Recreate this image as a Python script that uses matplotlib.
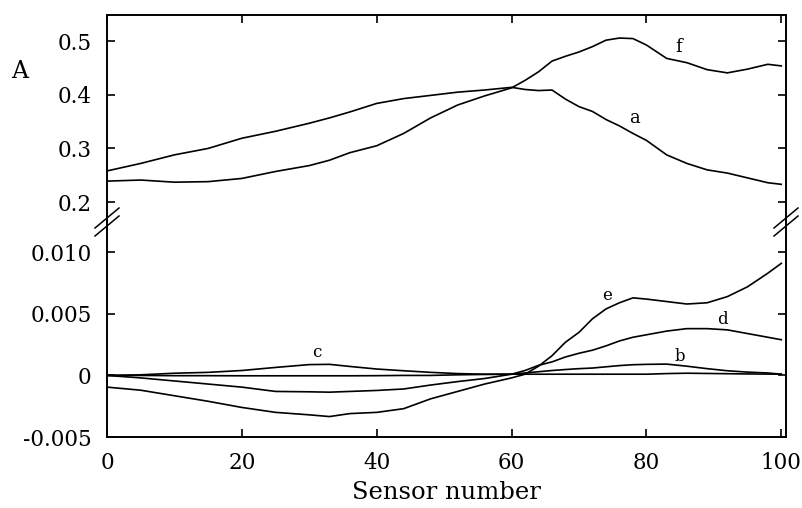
import matplotlib
matplotlib.use("Agg")
import matplotlib.pyplot as plt
from matplotlib.lines import Line2D

plt.rcParams["font.family"] = ["DejaVu Serif"]
plt.rcParams["axes.unicode_minus"] = False

# ---- data ----
sensor = [0, 5, 10, 15, 20, 25, 30, 33, 36, 40, 44, 48, 52, 56, 60, 62, 64, 66,
          68, 70, 72, 74, 76, 78, 80, 83, 86, 89, 92, 95, 98, 100]

a_vals = [0.258, 0.272, 0.288, 0.300, 0.319, 0.332, 0.347, 0.357, 0.368, 0.384,
          0.393, 0.399, 0.405, 0.409, 0.414, 0.410, 0.408, 0.409, 0.392, 0.378,
          0.369, 0.354, 0.342, 0.328, 0.315, 0.288, 0.272, 0.260, 0.254, 0.245,
          0.236, 0.233]
f_vals = [0.239, 0.241, 0.237, 0.238, 0.244, 0.257, 0.268, 0.278, 0.292, 0.305,
          0.328, 0.357, 0.381, 0.398, 0.413, 0.427, 0.443, 0.463, 0.472, 0.480,
          0.490, 0.502, 0.506, 0.505, 0.493, 0.468, 0.460, 0.447, 0.441, 0.448,
          0.457, 0.454]

b_vals = [0.0, 0.0, -0.00002, -0.00002, -0.00003, -0.00003, -0.00003, -0.00003,
          -0.00003, -0.00002, 0.0, 0.0, 0.00005, 0.00008, 0.0001, 0.0002, 0.0003,
          0.0004, 0.00048, 0.00055, 0.0006, 0.0007, 0.0008, 0.00087, 0.0009,
          0.00092, 0.00075, 0.00055, 0.00038, 0.00027, 0.0002, 0.0001]
c_vals = [0.0, 0.00005, 0.00018, 0.00025, 0.0004, 0.00065, 0.00088, 0.0009,
          0.00073, 0.00052, 0.00038, 0.00025, 0.00015, 0.0001, 0.0001, 0.0001,
          0.0001, 0.0001, 0.0001, 0.0001, 0.0001, 0.0001, 0.0001, 0.0001, 0.0001,
          0.00015, 0.00018, 0.00016, 0.00014, 0.00012, 0.00011, 0.0001]
d_vals = [0.0, -0.0002, -0.00045, -0.0007, -0.00095, -0.0013, -0.00133, -0.00136,
          -0.0013, -0.00122, -0.0011, -0.00078, -0.0005, -0.00025, 0.0001, 0.0004,
          0.00082, 0.0011, 0.0015, 0.0018, 0.00205, 0.0024, 0.0028, 0.0031, 0.0033,
          0.0036, 0.0038, 0.0038, 0.0037, 0.0034, 0.0031, 0.0029]
e_vals = [-0.00095, -0.0012, -0.00165, -0.0021, -0.0026, -0.003, -0.0032, -0.00334,
          -0.0031, -0.003, -0.0027, -0.0019, -0.0013, -0.0007, -0.0002, 0.0001,
          0.00075, 0.0016, 0.0027, 0.0035, 0.0046, 0.0054, 0.0059, 0.0063, 0.0062,
          0.006, 0.0058, 0.0059, 0.0064, 0.0072, 0.0083, 0.0091]

top_ticks = [0.2, 0.3, 0.4, 0.5]
top_labels = ["0.2", "0.3", "0.4", "0.5"]
bot_ticks = [-0.005, 0.0, 0.005, 0.010]
bot_labels = ["-0.005", "0", "0.005", "0.010"]
x_ticks = [0, 20, 40, 60, 80, 100]
x_labels = ["0", "20", "40", "60", "80", "100"]

W, H = 803, 508
fig = plt.figure(figsize=(W / 100, H / 100), dpi=100)
L, R, T, B, BRK = 107, 786, 15, 437, 222
ax_top = fig.add_axes([L / W, 1 - BRK / H, (R - L) / W, (BRK - T) / H])
ax_bot = fig.add_axes([L / W, 1 - B / H, (R - L) / W, (B - BRK) / H])

lw = 1.2
for ys in (a_vals, f_vals):
    ax_top.plot(sensor, ys, color="black", lw=lw)
for ys in (b_vals, c_vals, d_vals, e_vals):
    ax_bot.plot(sensor, ys, color="black", lw=lw)

xlim = (0, 100.7)
for ax in (ax_top, ax_bot):
    ax.set_xlim(*xlim)
    for s in ax.spines.values():
        s.set_linewidth(1.4)
    ax.tick_params(direction="in", length=6, width=1.2, labelsize=15.5,
                   left=True, right=True)

ax_top.set_ylim(0.1627, 0.549)
ax_top.set_yticks(top_ticks)
ax_top.set_yticklabels(top_labels)
ax_top.set_xticks(x_ticks)
ax_top.tick_params(axis="x", top=True, bottom=False, labelbottom=False)
ax_top.tick_params(axis="y", pad=11)
ax_top.spines["bottom"].set_visible(False)

ax_bot.set_ylim(-0.005, 0.01246)
ax_bot.set_yticks(bot_ticks)
ax_bot.set_yticklabels(bot_labels)
ax_bot.set_xticks(x_ticks)
ax_bot.set_xticklabels(x_labels)
ax_bot.tick_params(axis="x", top=False, bottom=True, pad=11)
ax_bot.tick_params(axis="y", pad=11)
ax_bot.spines["top"].set_visible(False)
ax_bot.set_xlabel("Sensor number", fontsize=17.5, labelpad=5)

fig.text(20 / W, 1 - 72 / H, "A", fontsize=17, ha="center", va="center")

# curve labels
ax_top.text(84.7, 0.49, "f", fontsize=13, ha="center", va="center")
ax_top.text(78.2, 0.357, "a", fontsize=13, ha="center", va="center")
ax_bot.text(31.1, 0.00187, "c", fontsize=12, ha="center", va="center")
ax_bot.text(74.2, 0.0065, "e", fontsize=12, ha="center", va="center")
ax_bot.text(91.2, 0.00453, "d", fontsize=12, ha="center", va="center")
ax_bot.text(85.0, 0.00155, "b", fontsize=12, ha="center", va="center")

# break marks on left and right axes
for xc in (L, R):
    for dy in (-4, 4):
        x0, x1 = xc - 12, xc + 12
        y0, y1 = BRK + 10 + dy, BRK - 10 + dy
        fig.add_artist(Line2D([x0 / W, x1 / W], [1 - y0 / H, 1 - y1 / H],
                              color="black", lw=1.1, transform=fig.transFigure))

fig.savefig("out.png", dpi=100)
